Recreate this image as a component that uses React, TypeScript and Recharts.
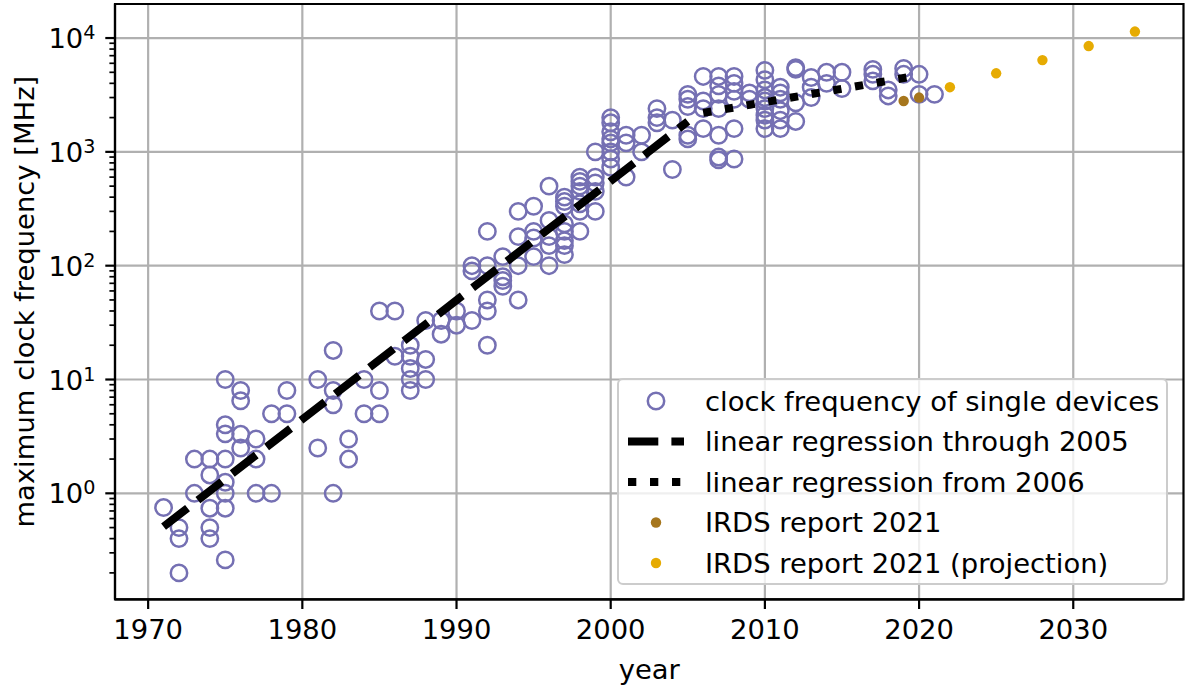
import React from 'react';
import { ComposedChart, Scatter, Line, XAxis, YAxis, CartesianGrid, Legend, Label, ReferenceArea } from 'recharts';

const FONT = 'DejaVu Sans';
const FONT_SIZE = 27.4;
const PURPLE = '#7570b3';
const BROWN = '#a6761d';
const GOLD = '#e6ab02';
const GRID = '#b0b0b0';

// max clock rate [MHz] of single processors, grouped by year
const DEVICES: [number, number[]][] = [
  [1971, [0.75]],
  [1972, [0.5, 0.4, 0.2]],
  [1973, [2, 1]],
  [1974, [2, 1.45, 0.74, 0.5, 0.4]],
  [1975, [10, 4, 3.33, 2, 1.25, 1, 0.74, 0.26]],
  [1976, [8, 6.5, 3.3, 2.5]],
  [1977, [3, 2, 1]],
  [1978, [5, 1]],
  [1979, [8, 5]],
  [1981, [10, 2.5]],
  [1982, [18, 8, 6, 1]],
  [1983, [3, 2]],
  [1984, [10, 5]],
  [1985, [40, 8, 5]],
  [1986, [40, 16]],
  [1987, [20, 16, 12.5, 10, 8]],
  [1988, [33, 15, 10]],
  [1989, [33, 25]],
  [1990, [40, 30]],
  [1991, [100, 90, 33]],
  [1992, [200, 100, 50, 40, 20]],
  [1993, [120, 80, 74, 66]],
  [1994, [300, 180, 100, 50]],
  [1995, [333, 200, 175, 120]],
  [1996, [500, 250, 180, 150, 100]],
  [1997, [400, 366, 333, 233, 200, 166, 150, 125]],
  [1998, [600, 550, 500, 450, 350, 300, 200]],
  [1999, [1000, 600, 533, 450, 300]],
  [2000, [2000, 1800, 1500, 1300, 1200, 1000, 866, 733]],
  [2001, [1400, 1200, 600]],
  [2002, [1400, 1000]],
  [2003, [2400, 2000, 1800]],
  [2004, [1900, 700]],
  [2005, [3200, 2900, 2500, 1400, 1300]],
  [2006, [4600, 2800, 2400, 1600]],
  [2007, [4600, 3800, 3200, 2400, 1400, 900, 850]],
  [2008, [4600, 4000, 3400, 2900, 1600, 866]],
  [2009, [3300, 2900]],
  [2010, [5200, 4300, 3500, 3000, 2800, 2400, 2100, 1900, 1600]],
  [2011, [3700, 3300, 2900, 2300, 1900, 1600]],
  [2012, [5500, 5300, 2700, 1850]],
  [2013, [4500, 3700, 3000]],
  [2014, [5000, 4000]],
  [2015, [5000, 3600]],
  [2017, [5300, 4800, 4200]],
  [2018, [3500, 3100]],
  [2019, [5400, 4800]],
  [2020, [4800, 3200]],
  [2021, [3200]],
];

// end points of the two fitted trends (straight in log space)
const FIT_TO_2005_YEARS = [1971, 2005];
const FIT_TO_2005_MHZ = [0.51, 1850];
const FIT_FROM_2006_YEARS = [2006, 2020];
const FIT_FROM_2006_MHZ = [2200, 4700];

// IRDS 2021 roadmap
const IRDS_YEARS = [2019, 2020];
const IRDS_MHZ = [2800, 3000];
const PROJ_YEARS = [2022, 2025, 2028, 2031, 2034];
const PROJ_MHZ = [3700, 4900, 6400, 8500, 11400];

const X_TICKS = [1970, 1980, 1990, 2000, 2010, 2020, 2030];
const Y_DECADES = [1, 10, 100, 1000, 10000];
const X_DOMAIN: [number, number] = [1967.85, 2037.15];
const Y_DOMAIN: [number, number] = [0.1172, 19910];

// log minor ticks 2..9 in each decade that falls inside the domain
const Y_MINOR = [0.1, 1, 10, 100, 1000]
  .flatMap((d) => [2, 3, 4, 5, 6, 7, 8, 9].map((m) => m * d))
  .filter((v) => v > Y_DOMAIN[0] && v < Y_DOMAIN[1]);
const Y_TICKS = [...Y_DECADES, ...Y_MINOR].sort((a, b) => a - b);

const pairs = (years: number[], mhz: number[]) => years.map((year, i) => ({ year, mhz: mhz[i] }));

const deviceData = DEVICES.flatMap(([year, values]) => values.map((mhz) => ({ year, mhz })));
const fitEarly = pairs(FIT_TO_2005_YEARS, FIT_TO_2005_MHZ);
const fitLate = pairs(FIT_FROM_2006_YEARS, FIT_FROM_2006_MHZ);
const irdsData = pairs(IRDS_YEARS, IRDS_MHZ);
const projData = pairs(PROJ_YEARS, PROJ_MHZ);

const LEGEND_ROWS = [
  { kind: 'ring', color: PURPLE, label: 'clock frequency of single devices' },
  { kind: 'dash', color: '#000', label: 'linear regression through 2005' },
  { kind: 'dot', color: '#000', label: 'linear regression from 2006' },
  { kind: 'disc', color: BROWN, label: 'IRDS report 2021' },
  { kind: 'disc', color: GOLD, label: 'IRDS report 2021 (projection)' },
];

const DASH = '30.3 13.1';
const DOTS = '8.3 13.7';

const Ring = (p: any) => (
  <circle cx={p.cx} cy={p.cy} r={8.2} fill="none" stroke={PURPLE} strokeWidth={2.5} />
);
const disc = (color: string) => (p: any) => <circle cx={p.cx} cy={p.cy} r={5.2} fill={color} />;

const YTick = (p: any) => {
  const { x, y, payload } = p;
  const v = payload.value;
  const exp = Math.round(Math.log10(v));
  const major = Math.abs(v - Math.pow(10, exp)) < 1e-6 * v;
  return (
    <g>
      <line x1={x - (major ? 9.7 : 5.6)} x2={x} y1={y} y2={y} stroke="#000" strokeWidth={major ? 2.2 : 1.7} />
      {major && (
        <text x={x - 19.5} y={y + 10} textAnchor="end" fontFamily={FONT} fontSize={FONT_SIZE} fill="#000">
          10
          <tspan dy={-9} fontSize={FONT_SIZE * 0.7}>{exp}</tspan>
        </text>
      )}
    </g>
  );
};

const XTitle = ({ viewBox }: any) => (
  <text x={viewBox.x + viewBox.width / 2} y={viewBox.y + 80} textAnchor="middle" fontFamily={FONT} fontSize={FONT_SIZE} fill="#000">
    year
  </text>
);

const YTitle = ({ viewBox }: any) => {
  const cx = 34.5;
  const cy = viewBox.y + viewBox.height / 2;
  return (
    <text x={cx} y={cy} transform={`rotate(-90, ${cx}, ${cy})`} textAnchor="middle" fontFamily={FONT} fontSize={FONT_SIZE} fill="#000">
      maximum clock frequency [MHz]
    </text>
  );
};

const LegendBox = () => {
  const left = 617;
  const top = 378;
  const w = 551;
  const h = 207;
  return (
    <div
      style={{
        width: w,
        height: h,
        boxSizing: 'border-box',
        border: '2px solid #cccccc',
        borderRadius: 6,
        background: 'rgba(255,255,255,0.8)',
        position: 'relative',
      }}
    >
      <svg width={w} height={h} style={{ position: 'absolute', left: -2, top: -2 }}>
        {LEGEND_ROWS.map((row, i) => {
          const cy = 401 + i * 40.5 - top;
          const x0 = 628 - left;
          const x1 = 684 - left;
          const cx = (x0 + x1) / 2;
          return (
            <g key={row.label}>
              {row.kind === 'ring' && <circle cx={cx} cy={cy} r={8.2} fill="none" stroke={row.color} strokeWidth={2.5} />}
              {row.kind === 'disc' && <circle cx={cx} cy={cy} r={5.2} fill={row.color} />}
              {row.kind === 'dash' && <line x1={x0} x2={x1} y1={cy} y2={cy} stroke="#000" strokeWidth={8} strokeDasharray={DASH} />}
              {row.kind === 'dot' && <line x1={x0} x2={x1} y1={cy} y2={cy} stroke="#000" strokeWidth={8} strokeDasharray={DOTS} />}
              <text x={705 - left} y={cy + 9.5} fontFamily={FONT} fontSize={FONT_SIZE} fill="#000">
                {row.label}
              </text>
            </g>
          );
        })}
      </svg>
    </div>
  );
};

const spine = { stroke: '#000', strokeWidth: 2.2 };

export default function App() {
  return (
    <div style={{ position: 'absolute', left: 0, top: 0, width: 1187, height: 687, background: '#fff' }}>
      <ComposedChart width={1187} height={687} margin={{ top: 4, right: 3.5, bottom: 0, left: 0 }}>
        <CartesianGrid stroke={GRID} strokeWidth={2.2} horizontalValues={Y_DECADES} verticalValues={X_TICKS} />
        <XAxis
          dataKey="year"
          type="number"
          domain={X_DOMAIN}
          allowDataOverflow
          ticks={X_TICKS}
          interval={0}
          height={87.7}
          tickSize={9.7}
          tickMargin={10.5}
          tick={{ fill: '#000', fontSize: FONT_SIZE, fontFamily: FONT }}
          tickLine={spine}
          axisLine={spine}
        >
          <Label content={XTitle} />
        </XAxis>
        <YAxis
          type="number"
          scale="log"
          domain={Y_DOMAIN}
          allowDataOverflow
          ticks={Y_TICKS}
          interval={0}
          width={115}
          tickSize={0}
          tickMargin={0}
          tickLine={false}
          tick={(p: any) => <YTick {...p} />}
          axisLine={spine}
        >
          <Label content={YTitle} />
        </YAxis>

        {/* full frame around the plot area */}
        <ReferenceArea
          x1={X_DOMAIN[0]}
          x2={X_DOMAIN[1]}
          y1={Y_DOMAIN[0]}
          y2={Y_DOMAIN[1]}
          fill="none"
          stroke="#000"
          strokeWidth={2.2}
          ifOverflow="visible"
        />

        <Scatter name="clock frequency of single devices" data={deviceData} dataKey="mhz" shape={Ring} isAnimationActive={false} zIndex={600} />
        <Line
          name="linear regression through 2005"
          data={fitEarly}
          dataKey="mhz"
          type="linear"
          stroke="#000"
          strokeWidth={8}
          strokeDasharray={DASH}
          dot={false}
          activeDot={false}
          isAnimationActive={false}
          zIndex={650}
        />
        <Line
          name="linear regression from 2006"
          data={fitLate}
          dataKey="mhz"
          type="linear"
          stroke="#000"
          strokeWidth={8}
          strokeDasharray={DOTS}
          dot={false}
          activeDot={false}
          isAnimationActive={false}
          zIndex={650}
        />
        <Scatter name="IRDS report 2021" data={irdsData} dataKey="mhz" shape={disc(BROWN)} isAnimationActive={false} zIndex={700} />
        <Scatter name="IRDS report 2021 (projection)" data={projData} dataKey="mhz" shape={disc(GOLD)} isAnimationActive={false} zIndex={700} />

        <Legend
          layout="vertical"
          verticalAlign="middle"
          align="center"
          wrapperStyle={{ left: 617, top: 378, width: 551, height: 207 }}
          content={LegendBox}
        />
      </ComposedChart>
    </div>
  );
}
